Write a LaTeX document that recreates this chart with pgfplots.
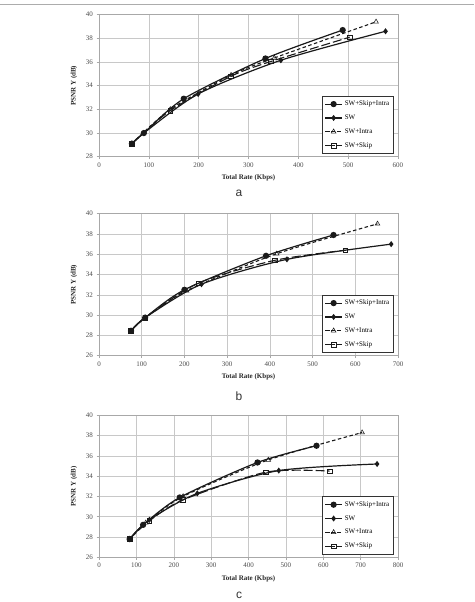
\documentclass[border=0pt]{standalone}
\usepackage{pgfplots}
\pgfplotsset{compat=1.18}
\usepackage{fontspec}
\setmainfont{Liberation Serif}
\newfontfamily\sflabel{Liberation Sans}

\definecolor{gridgray}{HTML}{C8C8C8}
\definecolor{framegray}{HTML}{A8A8A8}
\definecolor{curve}{HTML}{1A1A1A}

\pgfplotsset{
  rdpanel/.style={
    width=299pt, height=142pt, scale only axis,
    grid=major, grid style={draw=gridgray, line width=0.5pt},
    axis line style={draw=framegray, line width=0.6pt},
    tick style={draw=framegray, line width=0.5pt},
    major tick length=2.5pt, tick align=outside,
    xtick pos=left, ytick pos=left,
    /pgf/number format/assume math mode=true,
    ticklabel style={font=\fontsize{7}{8}\selectfont, text=black!70},
    xlabel={Total Rate (Kbps)}, ylabel={PSNR Y (dB)},
    label style={font=\fontsize{7}{8}\selectfont\bfseries, text=black!85},
    xlabel style={at={(axis description cs:0.5,-0.148)}, anchor=center},
    ylabel style={at={(axis description cs:-0.0836,0.5)}, anchor=center},
    legend style={at={(axis description cs:0.985,0.019)}, anchor=south east,
      draw=black!80, line width=0.6pt, fill=white,
      font=\fontsize{7}{8}\selectfont, row sep=3.6pt,
      inner xsep=2pt, inner ysep=3pt},
    legend cell align=left,
    clip=false,
  },
  swsi/.style={curve, line width=1.2pt, smooth, tension=0.45, mark=*, mark size=2.5pt, mark options={solid, fill=curve}},
  sw/.style={curve, line width=1.2pt, smooth, tension=0.45, mark=diamond*, mark size=2.1pt, mark options={solid, fill=curve}},
  swi/.style={curve, line width=1.1pt, smooth, tension=0.45, dash pattern=on 3.5pt off 2.5pt, mark=triangle, mark size=2.7pt, mark options={solid, line width=0.55pt}},
  sws/.style={curve, line width=1.1pt, smooth, tension=0.45, dash pattern=on 9pt off 3pt, mark=square, mark size=2.3pt, mark options={solid, line width=0.55pt}},
}

\begin{document}
\begin{tikzpicture}
\useasboundingbox (0pt,0pt) rectangle (474pt,-602pt);
\draw[gray!65, line width=0.9pt] (0pt,-4.7pt) -- (474pt,-4.7pt);

% ---------- (a) ----------
\begin{axis}[rdpanel, at={(99pt,-156.7pt)}, anchor=south west,
  xmin=0, xmax=600, ymin=28, ymax=40,
  xtick={0,100,...,600}, ytick={28,30,...,40}]
\addplot[swsi] coordinates {(66,29.1) (90,30.0) (170,32.9) (334,36.3) (489,38.7)};
\addlegendentry{SW+Skip+Intra}
\addplot[sw] coordinates {(66,29.1) (90,30.0) (199,33.3) (365,36.15) (575,38.6)};
\addlegendentry{SW}
\addplot[swi] coordinates {(66,29.1) (143,32.0) (265,34.9) (352,36.35) (556,39.4)};
\addlegendentry{SW+Intra}
\addplot[sws] coordinates {(66,29.1) (143,31.9) (265,34.8) (345,36.05) (503,38.1)};
\addlegendentry{SW+Skip}
\end{axis}
\node[font=\sflabel\fontsize{12}{14}\selectfont, text=black!80] at (239pt,-193pt) {a};

% ---------- (b) ----------
\begin{axis}[rdpanel, at={(99pt,-355.7pt)}, anchor=south west,
  xmin=0, xmax=700, ymin=26, ymax=40,
  xtick={0,100,...,700}, ytick={26,28,...,40}]
\addplot[swsi] coordinates {(75,28.45) (108,29.75) (200,32.5) (391,35.85) (549,37.9)};
\addlegendentry{SW+Skip+Intra}
\addplot[sw] coordinates {(75,28.45) (108,29.75) (240,33.05) (440,35.5) (684,37.0)};
\addlegendentry{SW}
\addplot[swi] coordinates {(75,28.45) (108,29.75) (205,32.4) (416,36.05) (652,39.0)};
\addlegendentry{SW+Intra}
\addplot[sws] coordinates {(75,28.45) (108,29.75) (232,33.15) (411,35.4) (577,36.4)};
\addlegendentry{SW+Skip}
\end{axis}
\node[font=\sflabel\fontsize{12}{14}\selectfont, text=black!80] at (239pt,-396.7pt) {b};

% ---------- (c) ----------
\begin{axis}[rdpanel, at={(99pt,-557.3pt)}, anchor=south west,
  xmin=0, xmax=800, ymin=26, ymax=40,
  xtick={0,100,...,800}, ytick={26,28,...,40}]
\addplot[swsi] coordinates {(82,27.8) (118,29.2) (216,31.9) (424,35.35) (582,37.0)};
\addlegendentry{SW+Skip+Intra}
\addplot[sw] coordinates {(82,27.8) (135,29.7) (263,32.3) (481,34.55) (744,35.2)};
\addlegendentry{SW}
\addplot[swi] coordinates {(82,27.8) (125,29.4) (225,32.0) (453,35.6) (704,38.3)};
\addlegendentry{SW+Intra}
\addplot[sws] coordinates {(82,27.8) (135,29.6) (224,31.65) (447,34.4) (617,34.5)};
\addlegendentry{SW+Skip}
\end{axis}
\node[font=\sflabel\fontsize{12}{14}\selectfont, text=black!80] at (239pt,-595.5pt) {c};
\end{tikzpicture}
\end{document}
